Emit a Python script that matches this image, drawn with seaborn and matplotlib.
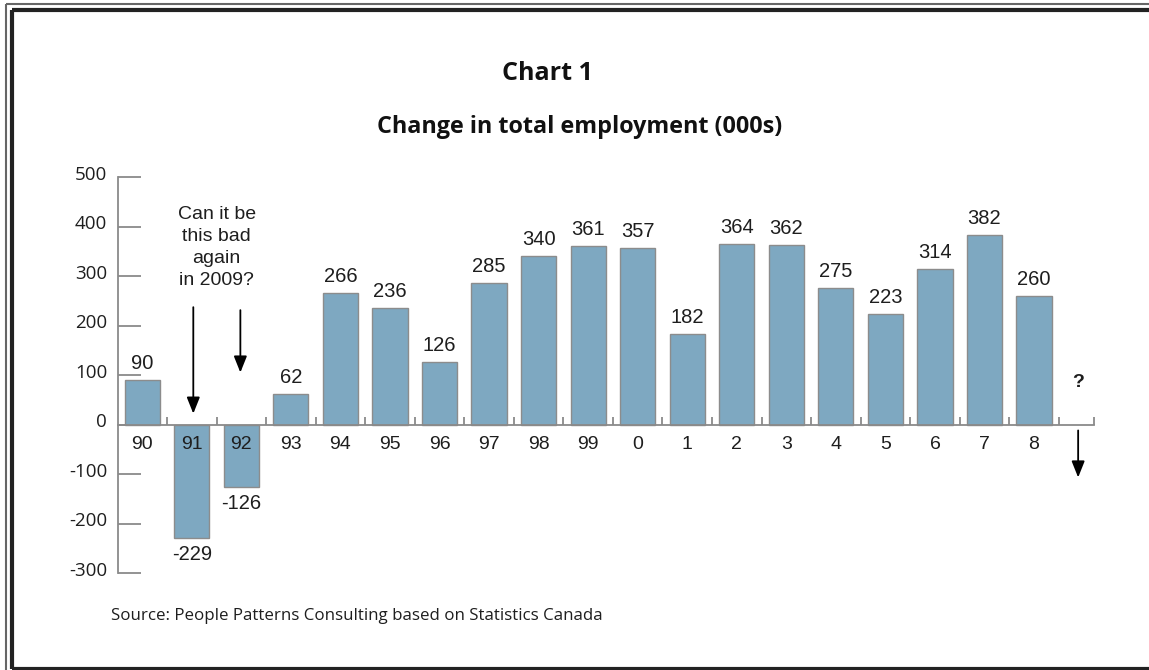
import matplotlib
matplotlib.use("Agg")
import matplotlib.pyplot as plt
from matplotlib.lines import Line2D
from matplotlib.transforms import ScaledTranslation
import seaborn as sns
import pandas as pd

# Annual change in total employment, thousands
years = ["90", "91", "92", "93", "94", "95", "96", "97", "98", "99",
         "0", "1", "2", "3", "4", "5", "6", "7", "8"]
change = [90, -229, -126, 62, 266, 236, 126, 285, 340, 361,
          357, 182, 364, 362, 275, 223, 314, 382, 260]
y_ticks = [-300, -200, -100, 0, 100, 200, 300, 400, 500]

title = "Chart 1"
subtitle = "Change in total employment (000s)"
source = "Source: People Patterns Consulting based on Statistics Canada"
question = "Can it be\nthis bad\nagain\nin 2009?"

df = pd.DataFrame({"year": years, "change": change})

sns.set_theme(style="white")
plt.rcParams["font.family"] = ["Open Sans", "DejaVu Sans"]

W, H, DPI = 1149, 670, 100
fig = plt.figure(figsize=(W / DPI, H / DPI), dpi=DPI)
fig.patch.set_facecolor("white")

ax = fig.add_axes([117.5 / W, 1 - 573 / H, (1094 - 117.5) / W, (573 - 177) / H])
ax.set_facecolor("white")

bar_color = "#7ea8c1"
grey = "#8a8a8a"
text_col = "#1e1e1e"
sns.barplot(data=df, x="year", y="change", order=years, color=bar_color,
            saturation=1, width=0.71, edgecolor="#8c8c8c", linewidth=1.0, ax=ax)

x_end = 19.21
ax.set_xlim(-0.5, x_end)
ax.set_ylim(-300, 500)
ax.set_xlabel("")
ax.set_ylabel("")

# spines: left axis plus a zero baseline
for s in ["top", "right"]:
    ax.spines[s].set_visible(False)
ax.spines["left"].set_color(grey)
ax.spines["left"].set_linewidth(1.3)
ax.spines["bottom"].set_position(("data", 0))
ax.spines["bottom"].set_color(grey)
ax.spines["bottom"].set_linewidth(1.3)

ax.set_yticks(y_ticks)
ax.set_yticklabels([str(v) for v in y_ticks])
ax.tick_params(axis="y", direction="in", length=16.5, width=1.3, color=grey,
               pad=7.5, labelsize=13.5, labelcolor=text_col, left=True)
for lab in ax.get_yticklabels():
    lab.set_transform(lab.get_transform() + ScaledTranslation(0, 3 / 72, fig.dpi_scale_trans))

boundaries = [i + 0.5 for i in range(len(years))] + [x_end - 0.005]
ax.set_xticks(boundaries)
ax.set_xticklabels([])
ax.tick_params(axis="x", direction="in", length=6, width=1.3, color=grey, bottom=True)

# category labels sit just under the zero line
for i, lab in enumerate(years):
    ax.annotate(lab, (i, 0), xytext=(0, -8), textcoords="offset points",
                ha="center", va="top", fontsize=14, color=text_col,
                family="Liberation Sans")

# value labels above / below each bar
ax.bar_label(ax.containers[0], labels=[str(v) for v in change], padding=5,
             fontsize=14.5, color=text_col, family="Liberation Sans")

# annotation about the early-90s recession
ax.text(1.5, 358, question, ha="center", va="center", fontsize=14,
        family="Liberation Sans", color=text_col, linespacing=1.38)
arrow = dict(arrowstyle="-|>,head_length=0.55,head_width=0.22", color="black",
             lw=1.3, shrinkA=0, shrinkB=0, mutation_scale=18)
ax.annotate("", xy=(1.03, 22), xytext=(1.03, 237), arrowprops=arrow)
ax.annotate("", xy=(1.98, 105), xytext=(1.98, 231), arrowprops=arrow)

# the open question for 2009
ax.text(18.89, 85, "?", ha="center", va="center", fontsize=14,
        fontweight="bold", family="Liberation Sans", color=text_col)
ax.annotate("", xy=(18.89, -107), xytext=(18.89, -12), arrowprops=arrow)

# titles and source
fig.text(547.5 / W, 1 - 73 / H, title, ha="center", va="center",
         fontsize=18, fontweight="bold", color="#111111")
fig.text(580 / W, 1 - 127 / H, subtitle, ha="center", va="center",
         fontsize=16.8, fontweight="bold", color="#111111")
fig.text(111 / W, 1 - 620 / H, source, ha="left", va="baseline",
         fontsize=12.2, color=text_col)

# double frame around the figure
px = fig.dpi_scale_trans
def frame_line(xs, ys, lw, color):
    fig.add_artist(Line2D([x / DPI for x in xs], [(H - y) / DPI for y in ys],
                          transform=px, lw=lw, color=color,
                          solid_capstyle="butt"))

frame_line([6, 6], [4, H], 1.5, "#666666")
frame_line([6, W], [4, 4], 1.5, "#666666")
frame_line([11.5, 11.5], [10, 668.5], 3.0, "#222222")
frame_line([11.5, W], [10, 10], 3.0, "#222222")
frame_line([11.5, W], [668.5, 668.5], 3.0, "#222222")

fig.savefig("out.png", dpi=DPI, facecolor="white")
